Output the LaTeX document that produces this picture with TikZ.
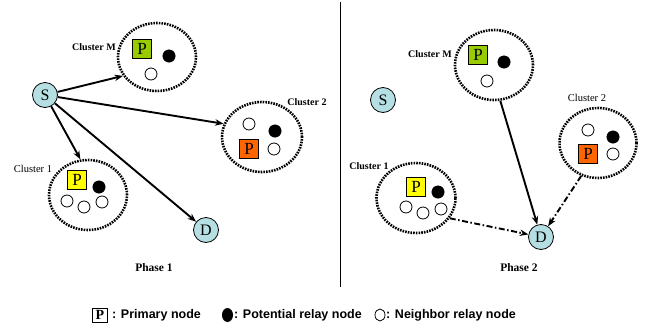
\documentclass[tikz,border=0pt]{standalone}
\usepackage{fontspec}
\setmainfont{Liberation Serif}
\setsansfont{Liberation Sans}
\usetikzlibrary{arrows.meta,shapes.geometric}
\definecolor{sdblue}{HTML}{B5DFE2}
\definecolor{pgreen}{HTML}{99CC00}
\definecolor{pyellow}{HTML}{FFFF00}
\definecolor{porange}{HTML}{FF6600}
\tikzset{
  cluster/.style={ellipse,draw,line width=2.6pt,dash pattern=on 1.6pt off 1.1pt,inner sep=0pt},
  endpt/.style={circle,draw,line width=0.8pt,fill=sdblue,minimum size=25pt,inner sep=0pt,font=\fontsize{16}{16}\selectfont},
  prim/.style={rectangle,draw,line width=0.8pt,minimum size=19pt,inner sep=0pt,font=\fontsize{17}{17}\selectfont},
  potrelay/.style={circle,fill=black,draw,minimum size=12.5pt,inner sep=0pt},
  nbrelay/.style={circle,fill=white,draw,line width=0.8pt,minimum size=12pt,inner sep=0pt},
  clabel/.style={font=\fontsize{10}{10}\selectfont\bfseries,inner sep=0pt},
  clabelr/.style={font=\fontsize{10.5}{10}\selectfont,inner sep=0pt},
  phase/.style={font=\fontsize{11.5}{12}\selectfont\bfseries,inner sep=0pt},
  sendarrow/.style={line width=1.9pt,-{Stealth[length=8.5pt,width=6.5pt]}},
  relayarrow/.style={line width=1.9pt,dash pattern=on 6pt off 2.5pt on 1.5pt off 2.5pt,-{Stealth[length=8.5pt,width=6.5pt]}},
  legtext/.style={font=\sffamily\bfseries\fontsize{12.5}{13}\selectfont,inner sep=0pt,anchor=west}
}
\begin{document}
\begin{tikzpicture}[x=1pt,y=-1pt]
\useasboundingbox (0,0) rectangle (649,330);
% divider
\draw[line width=1pt] (340,2) coordinate (dtop) -- (340,287) coordinate (dbot);

% ---------- Phase 1 ----------
\node[cluster,minimum width=78pt,minimum height=68pt] (cM) at (157,57) {};
\node[cluster,minimum width=80pt,minimum height=70pt] (c2) at (262,137) {};
\node[cluster,minimum width=78pt,minimum height=70pt] (c1) at (88,195) {};
\node[clabel,anchor=east] (lM) at (116,47) {Cluster M};
\node[clabel] (l2) at (307,102) {Cluster 2};
\node[clabelr] (l1) at (33,169) {Cluster 1};

\node[prim,fill=pgreen] (pM) at (142,49) {P};
\node[potrelay] (bM) at (169,56) {};
\node[nbrelay] (wM) at (151,74) {};

\node[nbrelay] (w2a) at (249,124) {};
\node[potrelay] (b2) at (275,131) {};
\node[prim,fill=porange] (p2) at (249,149) {P};
\node[nbrelay] (w2b) at (274,149) {};

\node[prim,fill=pyellow] (p1) at (77,180) {P};
\node[potrelay] (b1) at (99,187) {};
\node[nbrelay] (w1a) at (67,201) {};
\node[nbrelay] (w1b) at (84,207) {};
\node[nbrelay] (w1c) at (102,202) {};

\node[endpt] (S) at (45,95) {S};
\node[endpt] (D) at (206,230) {D};

\draw[sendarrow] (S) -- (cM.209);
\draw[sendarrow] (S) -- (c2.161);
\draw[sendarrow] (S) -- (c1.102);
\draw[sendarrow] (S) -- (D);

\node[phase] (ph1) at (154,268) {Phase 1};

% ---------- Phase 2 ----------
\node[cluster,minimum width=78pt,minimum height=70pt] (qM) at (494,65) {};
\node[cluster,minimum width=77pt,minimum height=70pt] (q2) at (598,143) {};
\node[cluster,minimum width=79pt,minimum height=70pt] (q1) at (416,198) {};
\node[clabel,anchor=east] (mM) at (452,54) {Cluster M};
\node[clabelr] (m2) at (587,98) {Cluster 2};
\node[clabel] (m1) at (369,166) {Cluster 1};

\node[prim,fill=pgreen] (rM) at (478,55) {P};
\node[potrelay] (eM) at (504,62) {};
\node[nbrelay] (vM) at (487,81) {};

\node[nbrelay] (v2a) at (588,130) {};
\node[potrelay] (e2) at (613,137) {};
\node[prim,fill=porange] (r2) at (588,154) {P};
\node[nbrelay] (v2b) at (613,154) {};

\node[prim,fill=pyellow] (r1) at (416,187) {P};
\node[potrelay] (e1) at (438,192) {};
\node[nbrelay] (v1a) at (406,207) {};
\node[nbrelay] (v1b) at (423,213) {};
\node[nbrelay] (v1c) at (441,209) {};

\node[endpt] (S2) at (383,100) {S};
\node[endpt] (D2) at (541,237) {D};

\draw[sendarrow] (qM.280) -- (D2);
\draw[relayarrow] (q2.243) -- (D2);
\draw[relayarrow] (q1.329) -- (D2);

\node[phase] (ph2) at (519,268) {Phase 2};

% ---------- Legend ----------
\node[rectangle,draw,line width=0.8pt,minimum width=15pt,minimum height=14pt,inner sep=0pt,font=\bfseries\fontsize{14}{14}\selectfont] (lgP) at (100,315) {P};
\node[legtext] (lgPt) at (112,315) {: Primary node};
\node[ellipse,fill=black,minimum width=11pt,minimum height=14pt,inner sep=0pt] (lgB) at (227.5,315) {};
\node[legtext] (lgBt) at (234,315) {: Potential relay node};
\node[ellipse,draw,line width=0.8pt,minimum width=10pt,minimum height=12pt,inner sep=0pt] (lgW) at (380,315) {};
\node[legtext] (lgWt) at (386,315) {: Neighbor relay node};
\end{tikzpicture}
\end{document}
